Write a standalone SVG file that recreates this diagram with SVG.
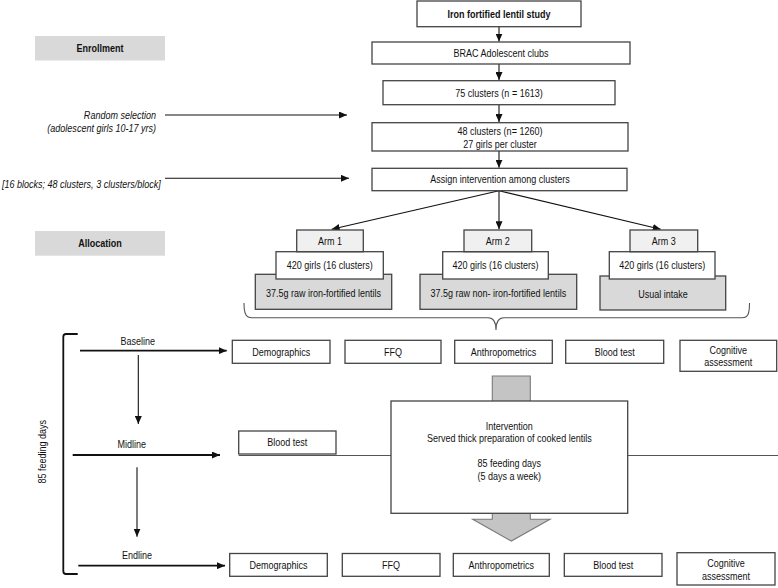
<svg xmlns="http://www.w3.org/2000/svg" width="778" height="588" viewBox="0 0 778 588">
<style>
text{font-family:"Liberation Sans",Arial,sans-serif;font-size:11px;fill:#111;dominant-baseline:central}
.c{text-anchor:middle}
.r{text-anchor:end}
.b{font-weight:bold}
.i{font-style:italic}
.box{fill:#fff;stroke:#444;stroke-width:1.3}
.arm{fill:#f0f0f0;stroke:#444;stroke-width:1.3}
.dk{fill:#d9d9d9;stroke:#444;stroke-width:1.3}
.lab{fill:#d9d9d9;stroke:none}
.ln{fill:none;stroke:#111;stroke-width:1.1}
.th{fill:none;stroke:#111;stroke-width:1.8}
.gl{fill:none;stroke:#555;stroke-width:1.1}
</style>
<defs>
<marker id="ah" viewBox="0 0 8 7" refX="8" refY="3.5" markerWidth="8" markerHeight="7" markerUnits="userSpaceOnUse" orient="auto"><path d="M0,0 L8,3.5 L0,7 z" fill="#111"/></marker>
</defs>

<g id="labels">
<rect class="lab" x="35" y="36" width="130" height="24.5"/>
<text class="c b" transform="scale(0.82 1)" x="121.95" y="48.3">Enrollment</text>
<rect class="lab" x="35" y="231" width="130" height="24.7"/>
<text class="c b" transform="scale(0.82 1)" x="121.95" y="243.3">Allocation</text>
<text class="r i" transform="scale(0.82 1)" x="190.24" y="115.3">Random selection</text>
<text class="r i" transform="scale(0.82 1)" x="190.24" y="128.3">(adolescent girls 10-17 yrs)</text>
<text class="i" transform="scale(0.82 1)" x="2.44" y="184">[16 blocks; 48 clusters, 3 clusters/block]</text>
<text class="c" transform="scale(0.82 1)" x="167.93" y="340.7">Baseline</text>
<text class="c" transform="scale(0.82 1)" x="160.61" y="444">Midline</text>
<text class="c" transform="scale(0.82 1)" x="167.07" y="555">Endline</text>
<text class="c" transform="translate(41.7 451.7) rotate(-90) scale(0.82 1)" x="0" y="0">85 feeding days</text>
</g>

<g id="gray-arrow">
<path d="M492.3,376 L530.3,376 L530.3,519.3 L550,519.3 L511.3,541 L472.7,519.3 L492.3,519.3 Z" fill="#c4c4c4" stroke="#7a7a7a" stroke-width="1.1"/>
</g>

<g id="connectors">
<line class="ln" x1="499" y1="26.7" x2="499" y2="41.5" marker-end="url(#ah)"/>
<line class="ln" x1="499" y1="64" x2="499" y2="80" marker-end="url(#ah)"/>
<line class="ln" x1="499" y1="104.7" x2="499" y2="122" marker-end="url(#ah)"/>
<line class="ln" x1="499" y1="151" x2="499" y2="167.8" marker-end="url(#ah)"/>
<line class="ln" x1="165" y1="115" x2="347" y2="115" marker-end="url(#ah)"/>
<line class="ln" x1="165" y1="178.3" x2="349" y2="178.3" marker-end="url(#ah)"/>
<line class="ln" x1="499" y1="190.7" x2="331.7" y2="229.3" marker-end="url(#ah)"/>
<line class="ln" x1="499" y1="190.7" x2="499" y2="229.3" marker-end="url(#ah)"/>
<line class="ln" x1="499" y1="190.7" x2="660.7" y2="229.3" marker-end="url(#ah)"/>
<path class="gl" d="M244,303 C244,314 246,317.7 252,317.7 L488,317.7 C494,317.7 496,322 496,330 C496,322 498,317.7 504,317.7 L742,317.7 C748,317.7 749.5,314 749.5,303"/>
<path class="th" d="M77.7,334 L66,334 Q63.3,334 63.3,337 L63.3,571 Q63.3,574 66,574 L77.7,574"/>
<line class="th" x1="80" y1="350.7" x2="226.7" y2="350.7" marker-end="url(#ah)"/>
<line class="th" x1="72.7" y1="455" x2="220" y2="455" marker-end="url(#ah)"/>
<line class="th" x1="78.3" y1="565.7" x2="225" y2="565.7" marker-end="url(#ah)"/>
<line class="ln" x1="138.3" y1="355" x2="138.3" y2="424" marker-end="url(#ah)"/>
<line class="ln" x1="137" y1="467.3" x2="137" y2="536.7" marker-end="url(#ah)"/>
<line class="gl" x1="238.7" y1="455.5" x2="391" y2="455.5"/>
<line class="gl" x1="627.7" y1="455.5" x2="778" y2="455.5"/>
</g>

<g id="title"><rect class="box" x="417" y="1" width="164" height="25.7"/><text class="c b" transform="scale(0.82 1)" x="608.54" y="14">Iron fortified lentil study</text></g>
<g id="brac"><rect class="box" x="372" y="42" width="258" height="22"/><text class="c" transform="scale(0.82 1)" x="610.98" y="53">BRAC Adolescent clubs</text></g>
<g id="clusters75"><rect class="box" x="383" y="80.7" width="232" height="24"/><text class="c" transform="scale(0.82 1)" x="608.54" y="92.7">75 clusters (n = 1613)</text></g>
<g id="clusters48"><rect class="box" x="372" y="122.7" width="256" height="28.3"/><text class="c" transform="scale(0.82 1)" x="609.76" y="131.3">48 clusters (n= 1260)</text><text class="c" transform="scale(0.82 1)" x="609.76" y="144">27 girls per cluster</text></g>
<g id="assign"><rect class="box" x="372" y="168.3" width="255" height="22.4"/><text class="c" transform="scale(0.82 1)" x="609.76" y="179.5">Assign intervention among clusters</text></g>

<g id="arm1">
<rect class="dk" x="255.3" y="274.3" width="136.4" height="35"/>
<rect class="box" x="276" y="251.7" width="107.3" height="27.3"/>
<rect class="arm" x="296.7" y="230" width="66.6" height="21.7"/>
<text class="c" transform="scale(0.82 1)" x="402.44" y="241">Arm 1</text>
<text class="c" transform="scale(0.82 1)" x="402.07" y="265.3">420 girls (16 clusters)</text>
<text class="c" transform="scale(0.82 1)" x="394.51" y="293.5">37.5g raw iron-fortified lentils</text>
</g>
<g id="arm2">
<rect class="dk" x="420" y="274.3" width="156.7" height="35"/>
<rect class="box" x="442.7" y="251.7" width="105.6" height="27.3"/>
<rect class="arm" x="464" y="230" width="67.7" height="21.7"/>
<text class="c" transform="scale(0.82 1)" x="607.07" y="241">Arm 2</text>
<text class="c" transform="scale(0.82 1)" x="604.27" y="265.3">420 girls (16 clusters)</text>
<text class="c" transform="scale(0.82 1)" x="607.68" y="293.5">37.5g raw non- iron-fortified lentils</text>
</g>
<g id="arm3">
<rect class="dk" x="600" y="276" width="125.7" height="34"/>
<rect class="box" x="609.3" y="251.7" width="105.7" height="27.3"/>
<rect class="arm" x="630" y="230" width="67.7" height="21.7"/>
<text class="c" transform="scale(0.82 1)" x="809.51" y="241">Arm 3</text>
<text class="c" transform="scale(0.82 1)" x="807.56" y="265.3">420 girls (16 clusters)</text>
<text class="c" transform="scale(0.82 1)" x="808.54" y="294">Usual intake</text>
</g>

<g id="base-demo"><rect class="box" x="232.3" y="340.3" width="97.7" height="23"/><text class="c" transform="scale(0.82 1)" x="342.93" y="352">Demographics</text></g>
<g id="base-ffq"><rect class="box" x="345" y="340.3" width="96" height="23"/><text class="c" transform="scale(0.82 1)" x="479.27" y="352">FFQ</text></g>
<g id="base-anthro"><rect class="box" x="454.7" y="340.3" width="97.6" height="23"/><text class="c" transform="scale(0.82 1)" x="614.02" y="352">Anthropometrics</text></g>
<g id="base-blood"><rect class="box" x="565.7" y="340.3" width="98" height="23"/><text class="c" transform="scale(0.82 1)" x="749.63" y="352">Blood test</text></g>
<g id="base-cog"><rect class="box" x="680" y="340.3" width="96.7" height="31"/><text class="c" transform="scale(0.82 1)" x="888.17" y="350">Cognitive</text><text class="c" transform="scale(0.82 1)" x="888.17" y="362.3">assessment</text></g>

<g id="mid-blood"><rect class="box" x="238.7" y="431" width="97.3" height="23"/><text class="c" transform="scale(0.82 1)" x="350.37" y="442.5">Blood test</text></g>

<g id="intervention">
<rect class="box" x="391" y="401" width="236.7" height="112.3"/>
<text class="c" transform="scale(0.82 1)" x="621.10" y="426">Intervention</text>
<text class="c" transform="scale(0.82 1)" x="621.10" y="437.7">Served thick preparation of cooked lentils</text>
<text class="c" transform="scale(0.82 1)" x="621.10" y="463.3">85 feeding days</text>
<text class="c" transform="scale(0.82 1)" x="621.10" y="475.7">(5 days a week)</text>
</g>

<g id="end-demo"><rect class="box" x="229.7" y="553.5" width="97.6" height="22.8"/><text class="c" transform="scale(0.82 1)" x="339.63" y="565">Demographics</text></g>
<g id="end-ffq"><rect class="box" x="342.3" y="553.5" width="97.7" height="22.8"/><text class="c" transform="scale(0.82 1)" x="476.83" y="565">FFQ</text></g>
<g id="end-anthro"><rect class="box" x="453.3" y="553.5" width="96" height="22.8"/><text class="c" transform="scale(0.82 1)" x="611.34" y="565">Anthropometrics</text></g>
<g id="end-blood"><rect class="box" x="564.3" y="553.5" width="97.7" height="22.8"/><text class="c" transform="scale(0.82 1)" x="747.80" y="565.5">Blood test</text></g>
<g id="end-cog"><rect class="box" x="677" y="552.7" width="98" height="32.3"/><text class="c" transform="scale(0.82 1)" x="885.37" y="563.3">Cognitive</text><text class="c" transform="scale(0.82 1)" x="885.37" y="576">assessment</text></g>
</svg>
